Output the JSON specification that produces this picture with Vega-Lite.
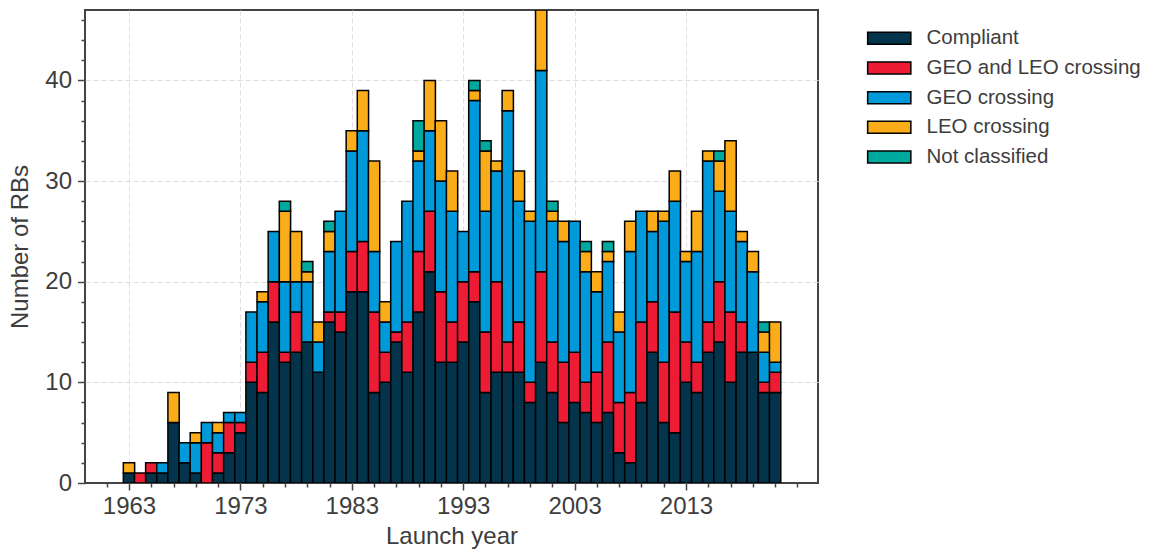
{
  "$schema": "https://vega.github.io/schema/vega-lite/v6.json",
  "autosize": {"type": "none"},
  "padding": {"left": 85, "top": 10, "right": 332, "bottom": 70},
  "width": 733,
  "height": 473,
  "background": "white",
  "config": {
    "font": "Liberation Sans",
    "view": {"stroke": "#444444", "strokeWidth": 2},
    "axis": {"domain": false, "labelFont": "Liberation Sans", "titleFont": "Liberation Sans", "labelFontSize": 24, "titleFontSize": 24, "titleFontWeight": "normal", "labelColor": "#3d3d3d", "titleColor": "#3d3d3d", "tickColor": "#444444", "tickWidth": 1.5, "gridColor": "#dddddd", "gridDash": [5, 3], "gridWidth": 1}
  },
  "data": {"values": [
    {"year":1963,"category":"Compliant","count":1},{"year":1963,"category":"LEO crossing","count":1},
    {"year":1964,"category":"GEO and LEO crossing","count":1},
    {"year":1965,"category":"Compliant","count":1},{"year":1965,"category":"GEO and LEO crossing","count":1},
    {"year":1966,"category":"Compliant","count":1},{"year":1966,"category":"GEO crossing","count":1},
    {"year":1967,"category":"Compliant","count":6},{"year":1967,"category":"LEO crossing","count":3},
    {"year":1968,"category":"Compliant","count":2},{"year":1968,"category":"GEO crossing","count":2},
    {"year":1969,"category":"Compliant","count":1},{"year":1969,"category":"GEO crossing","count":3},{"year":1969,"category":"LEO crossing","count":1},
    {"year":1970,"category":"GEO and LEO crossing","count":4},{"year":1970,"category":"GEO crossing","count":2},
    {"year":1971,"category":"Compliant","count":1},{"year":1971,"category":"GEO and LEO crossing","count":2},{"year":1971,"category":"GEO crossing","count":2},{"year":1971,"category":"LEO crossing","count":1},
    {"year":1972,"category":"Compliant","count":3},{"year":1972,"category":"GEO and LEO crossing","count":3},{"year":1972,"category":"GEO crossing","count":1},
    {"year":1973,"category":"Compliant","count":5},{"year":1973,"category":"GEO and LEO crossing","count":1},{"year":1973,"category":"GEO crossing","count":1},
    {"year":1974,"category":"Compliant","count":10},{"year":1974,"category":"GEO and LEO crossing","count":2},{"year":1974,"category":"GEO crossing","count":5},
    {"year":1975,"category":"Compliant","count":9},{"year":1975,"category":"GEO and LEO crossing","count":4},{"year":1975,"category":"GEO crossing","count":5},{"year":1975,"category":"LEO crossing","count":1},
    {"year":1976,"category":"Compliant","count":16},{"year":1976,"category":"GEO and LEO crossing","count":4},{"year":1976,"category":"GEO crossing","count":5},
    {"year":1977,"category":"Compliant","count":12},{"year":1977,"category":"GEO and LEO crossing","count":1},{"year":1977,"category":"GEO crossing","count":7},{"year":1977,"category":"LEO crossing","count":7},{"year":1977,"category":"Not classified","count":1},
    {"year":1978,"category":"Compliant","count":13},{"year":1978,"category":"GEO and LEO crossing","count":4},{"year":1978,"category":"GEO crossing","count":3},{"year":1978,"category":"LEO crossing","count":5},
    {"year":1979,"category":"Compliant","count":14},{"year":1979,"category":"GEO crossing","count":6},{"year":1979,"category":"LEO crossing","count":1},{"year":1979,"category":"Not classified","count":1},
    {"year":1980,"category":"Compliant","count":11},{"year":1980,"category":"GEO crossing","count":3},{"year":1980,"category":"LEO crossing","count":2},
    {"year":1981,"category":"Compliant","count":16},{"year":1981,"category":"GEO and LEO crossing","count":1},{"year":1981,"category":"GEO crossing","count":6},{"year":1981,"category":"LEO crossing","count":2},{"year":1981,"category":"Not classified","count":1},
    {"year":1982,"category":"Compliant","count":15},{"year":1982,"category":"GEO and LEO crossing","count":2},{"year":1982,"category":"GEO crossing","count":10},
    {"year":1983,"category":"Compliant","count":19},{"year":1983,"category":"GEO and LEO crossing","count":4},{"year":1983,"category":"GEO crossing","count":10},{"year":1983,"category":"LEO crossing","count":2},
    {"year":1984,"category":"Compliant","count":19},{"year":1984,"category":"GEO and LEO crossing","count":5},{"year":1984,"category":"GEO crossing","count":11},{"year":1984,"category":"LEO crossing","count":4},
    {"year":1985,"category":"Compliant","count":9},{"year":1985,"category":"GEO and LEO crossing","count":8},{"year":1985,"category":"GEO crossing","count":6},{"year":1985,"category":"LEO crossing","count":9},
    {"year":1986,"category":"Compliant","count":10},{"year":1986,"category":"GEO and LEO crossing","count":3},{"year":1986,"category":"GEO crossing","count":3},{"year":1986,"category":"LEO crossing","count":2},
    {"year":1987,"category":"Compliant","count":14},{"year":1987,"category":"GEO and LEO crossing","count":1},{"year":1987,"category":"GEO crossing","count":9},
    {"year":1988,"category":"Compliant","count":11},{"year":1988,"category":"GEO and LEO crossing","count":5},{"year":1988,"category":"GEO crossing","count":12},
    {"year":1989,"category":"Compliant","count":17},{"year":1989,"category":"GEO and LEO crossing","count":6},{"year":1989,"category":"GEO crossing","count":9},{"year":1989,"category":"LEO crossing","count":1},{"year":1989,"category":"Not classified","count":3},
    {"year":1990,"category":"Compliant","count":21},{"year":1990,"category":"GEO and LEO crossing","count":6},{"year":1990,"category":"GEO crossing","count":8},{"year":1990,"category":"LEO crossing","count":5},
    {"year":1991,"category":"Compliant","count":12},{"year":1991,"category":"GEO and LEO crossing","count":7},{"year":1991,"category":"GEO crossing","count":11},{"year":1991,"category":"LEO crossing","count":6},
    {"year":1992,"category":"Compliant","count":12},{"year":1992,"category":"GEO and LEO crossing","count":4},{"year":1992,"category":"GEO crossing","count":11},{"year":1992,"category":"LEO crossing","count":4},
    {"year":1993,"category":"Compliant","count":14},{"year":1993,"category":"GEO and LEO crossing","count":6},{"year":1993,"category":"GEO crossing","count":5},
    {"year":1994,"category":"Compliant","count":18},{"year":1994,"category":"GEO and LEO crossing","count":3},{"year":1994,"category":"GEO crossing","count":17},{"year":1994,"category":"LEO crossing","count":1},{"year":1994,"category":"Not classified","count":1},
    {"year":1995,"category":"Compliant","count":9},{"year":1995,"category":"GEO and LEO crossing","count":6},{"year":1995,"category":"GEO crossing","count":12},{"year":1995,"category":"LEO crossing","count":6},{"year":1995,"category":"Not classified","count":1},
    {"year":1996,"category":"Compliant","count":11},{"year":1996,"category":"GEO and LEO crossing","count":9},{"year":1996,"category":"GEO crossing","count":11},{"year":1996,"category":"LEO crossing","count":1},
    {"year":1997,"category":"Compliant","count":11},{"year":1997,"category":"GEO and LEO crossing","count":3},{"year":1997,"category":"GEO crossing","count":23},{"year":1997,"category":"LEO crossing","count":2},
    {"year":1998,"category":"Compliant","count":11},{"year":1998,"category":"GEO and LEO crossing","count":5},{"year":1998,"category":"GEO crossing","count":12},{"year":1998,"category":"LEO crossing","count":3},
    {"year":1999,"category":"Compliant","count":8},{"year":1999,"category":"GEO and LEO crossing","count":2},{"year":1999,"category":"GEO crossing","count":16},{"year":1999,"category":"LEO crossing","count":1},
    {"year":2000,"category":"Compliant","count":12},{"year":2000,"category":"GEO and LEO crossing","count":9},{"year":2000,"category":"GEO crossing","count":20},{"year":2000,"category":"LEO crossing","count":6},
    {"year":2001,"category":"Compliant","count":9},{"year":2001,"category":"GEO and LEO crossing","count":5},{"year":2001,"category":"GEO crossing","count":12},{"year":2001,"category":"LEO crossing","count":1},{"year":2001,"category":"Not classified","count":1},
    {"year":2002,"category":"Compliant","count":6},{"year":2002,"category":"GEO and LEO crossing","count":6},{"year":2002,"category":"GEO crossing","count":12},{"year":2002,"category":"LEO crossing","count":2},
    {"year":2003,"category":"Compliant","count":8},{"year":2003,"category":"GEO and LEO crossing","count":5},{"year":2003,"category":"GEO crossing","count":13},
    {"year":2004,"category":"Compliant","count":7},{"year":2004,"category":"GEO and LEO crossing","count":3},{"year":2004,"category":"GEO crossing","count":11},{"year":2004,"category":"LEO crossing","count":2},{"year":2004,"category":"Not classified","count":1},
    {"year":2005,"category":"Compliant","count":6},{"year":2005,"category":"GEO and LEO crossing","count":5},{"year":2005,"category":"GEO crossing","count":8},{"year":2005,"category":"LEO crossing","count":2},
    {"year":2006,"category":"Compliant","count":7},{"year":2006,"category":"GEO and LEO crossing","count":7},{"year":2006,"category":"GEO crossing","count":8},{"year":2006,"category":"LEO crossing","count":1},{"year":2006,"category":"Not classified","count":1},
    {"year":2007,"category":"Compliant","count":3},{"year":2007,"category":"GEO and LEO crossing","count":5},{"year":2007,"category":"GEO crossing","count":7},{"year":2007,"category":"LEO crossing","count":2},
    {"year":2008,"category":"Compliant","count":2},{"year":2008,"category":"GEO and LEO crossing","count":7},{"year":2008,"category":"GEO crossing","count":14},{"year":2008,"category":"LEO crossing","count":3},
    {"year":2009,"category":"Compliant","count":8},{"year":2009,"category":"GEO and LEO crossing","count":8},{"year":2009,"category":"GEO crossing","count":11},
    {"year":2010,"category":"Compliant","count":13},{"year":2010,"category":"GEO and LEO crossing","count":5},{"year":2010,"category":"GEO crossing","count":7},{"year":2010,"category":"LEO crossing","count":2},
    {"year":2011,"category":"Compliant","count":6},{"year":2011,"category":"GEO and LEO crossing","count":6},{"year":2011,"category":"GEO crossing","count":14},{"year":2011,"category":"LEO crossing","count":1},
    {"year":2012,"category":"Compliant","count":5},{"year":2012,"category":"GEO and LEO crossing","count":12},{"year":2012,"category":"GEO crossing","count":11},{"year":2012,"category":"LEO crossing","count":3},
    {"year":2013,"category":"Compliant","count":10},{"year":2013,"category":"GEO and LEO crossing","count":4},{"year":2013,"category":"GEO crossing","count":8},{"year":2013,"category":"LEO crossing","count":1},
    {"year":2014,"category":"Compliant","count":9},{"year":2014,"category":"GEO and LEO crossing","count":3},{"year":2014,"category":"GEO crossing","count":11},{"year":2014,"category":"LEO crossing","count":4},
    {"year":2015,"category":"Compliant","count":13},{"year":2015,"category":"GEO and LEO crossing","count":3},{"year":2015,"category":"GEO crossing","count":16},{"year":2015,"category":"LEO crossing","count":1},
    {"year":2016,"category":"Compliant","count":14},{"year":2016,"category":"GEO and LEO crossing","count":6},{"year":2016,"category":"GEO crossing","count":9},{"year":2016,"category":"LEO crossing","count":3},{"year":2016,"category":"Not classified","count":1},
    {"year":2017,"category":"Compliant","count":10},{"year":2017,"category":"GEO and LEO crossing","count":7},{"year":2017,"category":"GEO crossing","count":10},{"year":2017,"category":"LEO crossing","count":7},
    {"year":2018,"category":"Compliant","count":13},{"year":2018,"category":"GEO and LEO crossing","count":3},{"year":2018,"category":"GEO crossing","count":8},{"year":2018,"category":"LEO crossing","count":1},
    {"year":2019,"category":"Compliant","count":13},{"year":2019,"category":"GEO crossing","count":8},{"year":2019,"category":"LEO crossing","count":2},
    {"year":2020,"category":"Compliant","count":9},{"year":2020,"category":"GEO and LEO crossing","count":1},{"year":2020,"category":"GEO crossing","count":3},{"year":2020,"category":"LEO crossing","count":2},{"year":2020,"category":"Not classified","count":1},
    {"year":2021,"category":"Compliant","count":9},{"year":2021,"category":"GEO and LEO crossing","count":2},{"year":2021,"category":"GEO crossing","count":1},{"year":2021,"category":"LEO crossing","count":4}
  ]},
  "mark": {"type": "bar", "width": 11.3, "stroke": "#000000", "strokeWidth": 1.5, "clip": true},
  "encoding": {
    "x": {
      "field": "year", "type": "quantitative", "title": "Launch year",
      "scale": {"domain": [1959.5, 2024.4], "nice": false, "zero": false},
      "axis": {
        "values": [1961,1963,1965,1967,1969,1971,1973,1975,1977,1979,1981,1983,1985,1987,1989,1991,1993,1995,1997,1999,2001,2003,2005,2007,2009,2011,2013,2015,2017,2019,2021,2023],
        "format": "d",
        "labelExpr": "(datum.value - 1963) % 10 === 0 && datum.value < 2020 ? datum.label : ''",
        "tickSize": {"condition": {"test": "(datum.value - 1963) % 10 === 0 && datum.value < 2020", "value": 7}, "value": 4},
        "gridOpacity": {"condition": {"test": "(datum.value - 1963) % 10 === 0 && datum.value < 2020", "value": 1}, "value": 0},
        "labelPadding": 4,
        "titlePadding": 6,
        "labelFlush": false
      }
    },
    "y": {
      "field": "count", "type": "quantitative", "aggregate": "sum", "stack": "zero", "title": "Number of RBs",
      "scale": {"domain": [0, 47], "nice": false},
      "axis": {
        "values": [0,2,4,6,8,10,12,14,16,18,20,22,24,26,28,30,32,34,36,38,40,42,44,46],
        "labelExpr": "datum.value % 10 === 0 ? datum.label : ''",
        "tickSize": {"condition": {"test": "datum.value % 10 === 0", "value": 7.5}, "value": 4},
        "gridOpacity": {"condition": {"test": "datum.value % 10 === 0 && datum.value > 0", "value": 1}, "value": 0},
        "labelPadding": 6,
        "titlePadding": 12,
        "labelFlush": false
      }
    },
    "order": {"field": "category", "type": "ordinal", "sort": "ascending"},
    "color": {
      "field": "category", "type": "nominal",
      "scale": {
        "domain": ["Compliant", "GEO and LEO crossing", "GEO crossing", "LEO crossing", "Not classified"],
        "range": ["#04344b", "#ed1c34", "#0099d9", "#fbac19", "#00a99d"]
      },
      "legend": {
        "title": null,
        "orient": "none",
        "legendX": 794,
        "legendY": 18,
        "padding": 0,
        "symbolType": "M-3.6,-1H3.6V1H-3.6Z",
        "symbolSize": 144,
        "symbolStrokeColor": "#000000",
        "symbolStrokeWidth": 1.5,
        "symbolOpacity": 1,
        "labelFont": "Liberation Sans",
        "labelFontSize": 20.5,
        "labelColor": "#3d3d3d",
        "labelOffset": 27,
        "rowPadding": 8.7,
        "labelLimit": 400
      }
    }
  }
}
